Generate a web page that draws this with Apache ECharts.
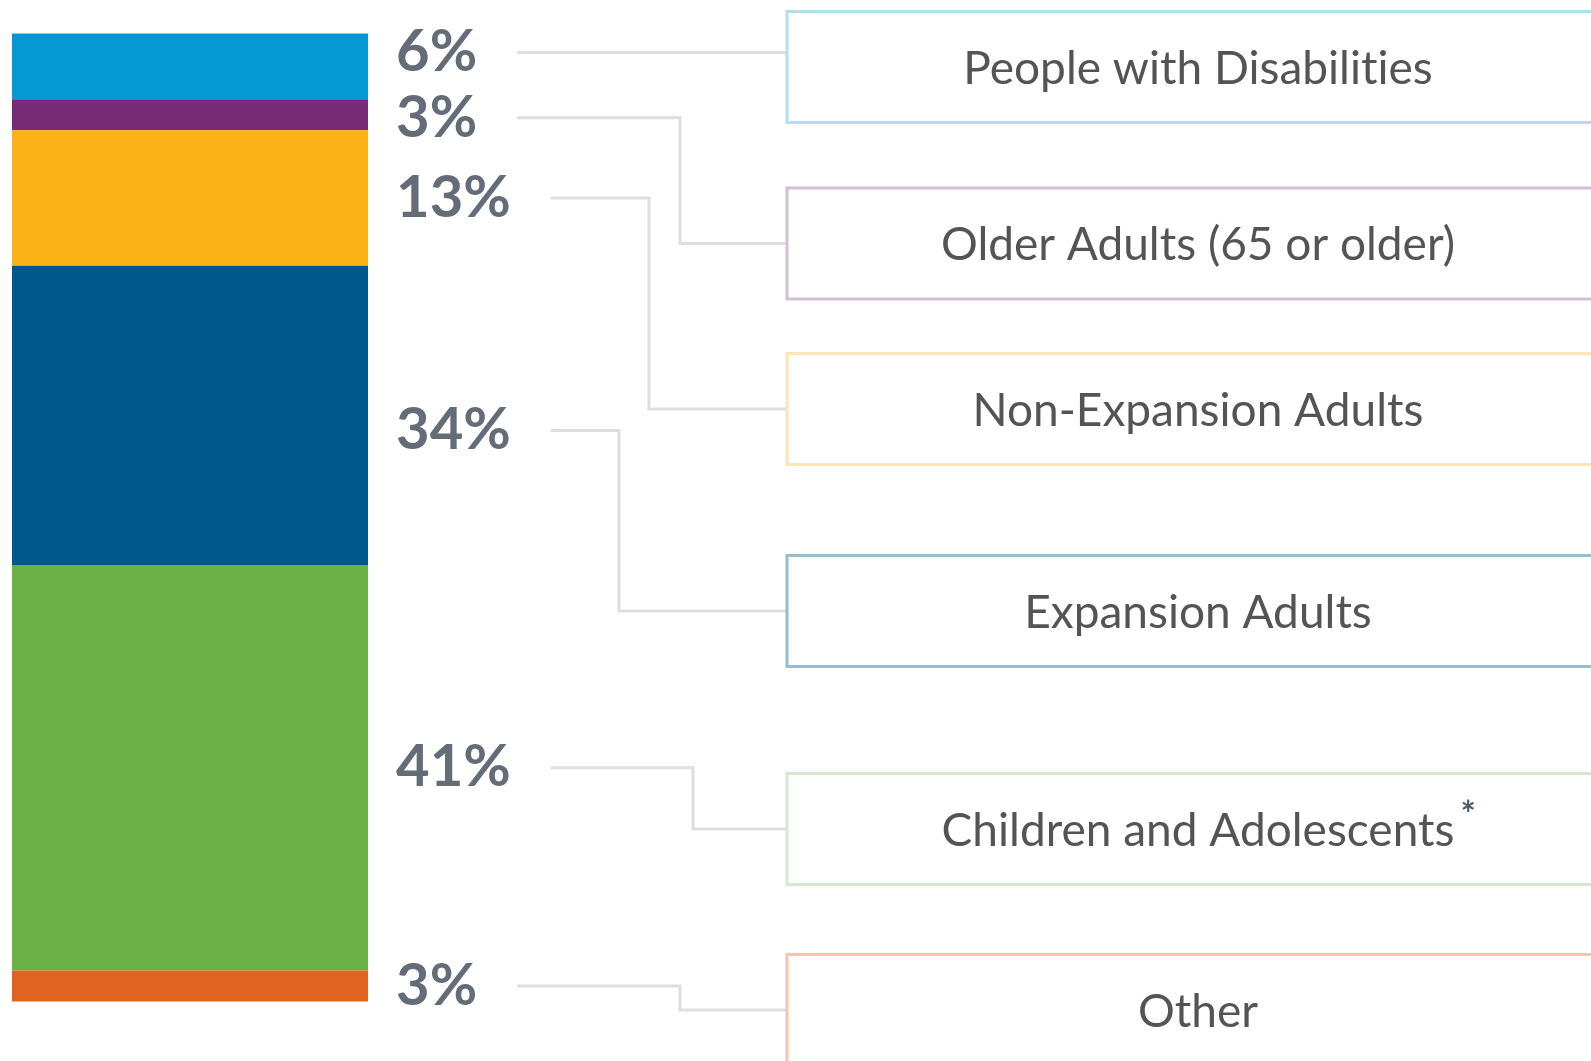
<!DOCTYPE html>
<html><head><meta charset="utf-8">
<script src="https://cdn.jsdelivr.net/npm/echarts@6/dist/echarts.min.js"></script>
<style>html,body{margin:0;padding:0;background:#fff}#c{width:1591px;height:1061px}</style>
</head><body><div id="c"></div>
<script>
// ---- data ----
const categories = ['People with Disabilities', 'Older Adults (65 or older)', 'Non-Expansion Adults', 'Expansion Adults', 'Children and Adolescents', 'Other'];
const shares = [6.8, 3.2, 14.0, 30.9, 41.9, 3.2];          // segment sizes as drawn
const percentLabels = ['6%', '3%', '13%', '34%', '41%', '3%'];
const footnotes = ['', '', '', '', '*', ''];

// ---- styles / layout ----
const segmentColors = ['#0598d5', '#772a75', '#fbb217', '#00578b', '#69b046', '#e06420'];
const boxBorderColors = ['#b3def1', '#d8bdd8', '#fde6b5', '#99bbd2', '#d4e9cb', '#efc6b1'];
const LAYOUT = {
  barLeft: 12, barRight: 368, barTop: 33.5, barBottom: 1001.5,
  labelGap: 28, labelDy: [-14, 3, 0, 15, 0, 0],
  lineGap: 40,
  elbowX: [null, 680, 649, 619, 693, 680],
  boxLeft: 787, boxWidth: 900, boxHeight: 111,
  boxTop: [11.5, 188, 353.5, 555.5, 773.5, 954.5],
  textCx: 1198
};
const PCT_FONT = { family: 'Lato', weight: 'bold', size: 58, color: '#636c77' };
const BOX_FONT = { family: 'Lato', weight: 'normal', size: 46, color: '#545454' };

// avoid the Lato "ti" ligature (display only)
const noLig = s => s.replace(/ti/g, 't\u200Ci');

const total = shares.reduce((a, b) => a + b, 0);
const chart = echarts.init(document.getElementById('c'), null, { renderer: 'canvas' });

chart.setOption({
  animation: false,
  grid: { left: LAYOUT.barLeft, top: LAYOUT.barTop, width: LAYOUT.barRight - LAYOUT.barLeft, height: LAYOUT.barBottom - LAYOUT.barTop, containLabel: false },
  xAxis: { type: 'category', data: ['All'], show: false },
  yAxis: { type: 'value', min: 0, max: total, inverse: true, show: false },
  series: categories.map((name, i) => ({
    name, type: 'bar', stack: 'total', barWidth: '100%', barCategoryGap: 0,
    data: [shares[i]],
    itemStyle: { color: segmentColors[i] },
    label: {
      show: true, position: 'right', distance: LAYOUT.labelGap,
      formatter: percentLabels[i], offset: [0, LAYOUT.labelDy[i]],
      fontFamily: PCT_FONT.family, fontWeight: PCT_FONT.weight, fontSize: PCT_FONT.size, color: PCT_FONT.color
    }
  }))
});

const ctx = document.createElement('canvas').getContext('2d');
function textWidth(t, f) { ctx.font = f.weight + ' ' + f.size + 'px ' + f.family; return ctx.measureText(t).width; }

function drawAnnotations() {
  const g = [];
  let cum = 0;
  shares.forEach((v, i) => {
    const mid = cum + v / 2; cum += v;
    const ly = chart.convertToPixel({ yAxisIndex: 0 }, mid) + LAYOUT.labelDy[i];
    const sx = LAYOUT.barRight + LAYOUT.labelGap + textWidth(percentLabels[i], PCT_FONT) + LAYOUT.lineGap;
    const by = LAYOUT.boxTop[i] + LAYOUT.boxHeight / 2;
    const ex = LAYOUT.elbowX[i];
    const pts = ex == null ? [[sx, ly], [LAYOUT.boxLeft, ly]] : [[sx, ly], [ex, ly], [ex, by], [LAYOUT.boxLeft, by]];
    g.push({ type: 'polyline', z: 1, shape: { points: pts }, style: { stroke: '#dcdfe2', lineWidth: 3, fill: null } });
    g.push({ type: 'rect', z: 2, shape: { x: LAYOUT.boxLeft, y: LAYOUT.boxTop[i], width: LAYOUT.boxWidth, height: LAYOUT.boxHeight },
      style: { fill: '#fff', stroke: boxBorderColors[i], lineWidth: 3 } });
    g.push({ type: 'text', z: 3, style: { text: noLig(categories[i]), x: LAYOUT.textCx, y: by + 2, align: 'center', verticalAlign: 'middle',
      font: BOX_FONT.weight + ' ' + BOX_FONT.size + 'px ' + BOX_FONT.family, fill: BOX_FONT.color } });
    if (footnotes[i]) {
      const w = textWidth(categories[i], BOX_FONT);
      g.push({ type: 'text', z: 3, style: { text: footnotes[i], x: LAYOUT.textCx + w / 2 + 6, y: by - 14, align: 'left', verticalAlign: 'middle',
        font: 'bold 36px Lato', fill: '#4d5b6a' } });
    }
  });
  chart.setOption({ graphic: { elements: g } });
}
drawAnnotations();
</script>
</body></html>
